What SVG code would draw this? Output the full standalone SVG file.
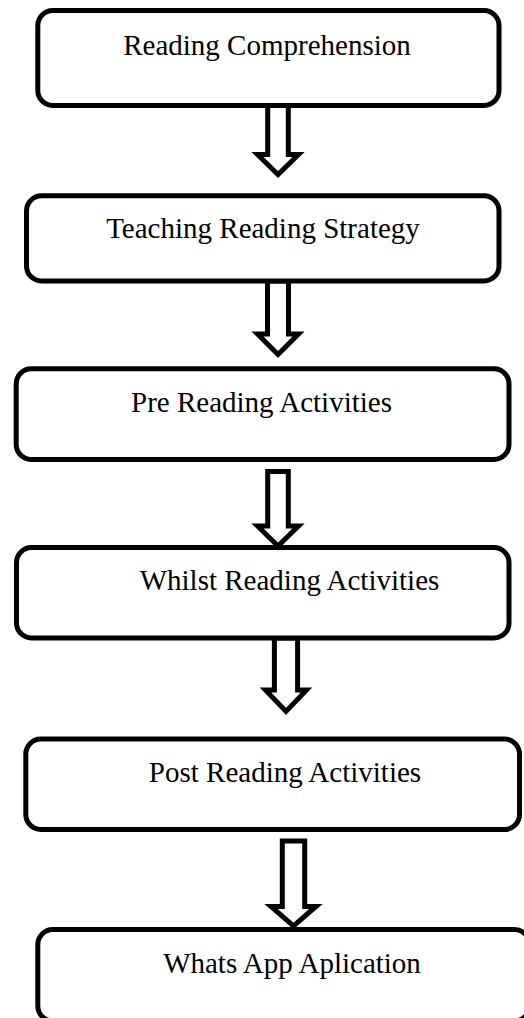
<svg xmlns="http://www.w3.org/2000/svg" width="524" height="1018" viewBox="0 0 524 1018">
  <style>
    .box { fill: #ffffff; stroke: #000000; stroke-width: 5; }
    .arrow { fill: #ffffff; stroke: #000000; stroke-width: 5; stroke-linejoin: miter; stroke-miterlimit: 10; }
    .label { font-family: "Liberation Serif", "Times New Roman", serif; font-size: 29px; fill: #000000; text-anchor: middle; }
  </style>
  <rect x="0" y="0" width="524" height="1018" fill="#ffffff"/>
  <g id="connectors">
    <polygon class="arrow" points="267.7,105.5 288.3,105.5 288.3,154.5 298.5,154.5 278,174.5 257.5,154.5 267.7,154.5"/>
    <polygon class="arrow" points="267.5,281 288.5,281 288.5,334 298.5,334 278,354.5 257.5,334 267.5,334"/>
    <polygon class="arrow" points="267.7,471.5 288.3,471.5 288.3,526 298.5,526 278,546 257.5,526 267.7,526"/>
    <polygon class="arrow" points="274.4,638 297.6,638 297.6,690 306.5,690 286,711.5 265.5,690 274.4,690"/>
    <polygon class="arrow" points="282.3,841 304.7,841 304.7,906.5 316,906.5 293.5,926 271,906.5 282.3,906.5"/>
  </g>
  <g id="node-reading-comprehension">
    <rect class="box" x="37.8" y="10.5" width="461.2" height="95" rx="15" ry="15"/>
    <text class="label" x="267" y="55">Reading Comprehension</text>
  </g>
  <g id="node-teaching-reading-strategy">
    <rect class="box" x="26.5" y="195.8" width="472.5" height="85.2" rx="15" ry="15"/>
    <text class="label" x="263" y="238">Teaching Reading Strategy</text>
  </g>
  <g id="node-pre-reading">
    <rect class="box" x="16.2" y="368.8" width="492.8" height="90.7" rx="15" ry="15"/>
    <text class="label" x="261.5" y="412">Pre Reading Activities</text>
  </g>
  <g id="node-whilst-reading">
    <rect class="box" x="16.5" y="547.5" width="492.5" height="90.5" rx="15" ry="15"/>
    <text class="label" x="289.5" y="590">Whilst Reading Activities</text>
  </g>
  <g id="node-post-reading">
    <rect class="box" x="25.8" y="739" width="493.7" height="90.5" rx="15" ry="15"/>
    <text class="label" x="285" y="782">Post Reading Activities</text>
  </g>
  <g id="node-whatsapp">
    <rect class="box" x="37.8" y="929.5" width="491.7" height="91.5" rx="15" ry="15"/>
    <text class="label" x="292" y="973">Whats App Aplication</text>
  </g>
</svg>
